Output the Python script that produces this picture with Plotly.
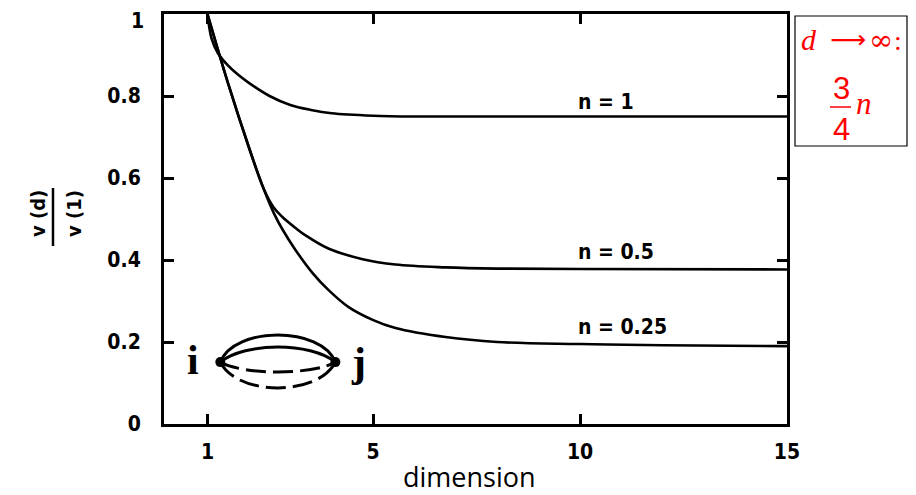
import plotly.graph_objects as go

# ---- data ----
n1_x = [1, 1.1, 1.25, 1.5, 1.75, 2.0, 2.5, 3.0, 3.5, 4.0, 5.0, 6.0, 8, 10, 12, 15]
n1_y = [1.0, 0.94, 0.905, 0.874, 0.851, 0.832, 0.80, 0.778, 0.766, 0.758, 0.752, 0.75, 0.75, 0.75, 0.75, 0.75]

n05_x = [1, 1.5, 2.0, 2.36, 2.6, 2.81, 3.13, 3.37, 3.92, 4.75, 5.54, 6.75, 8, 10, 15]
n05_y = [1.0, 0.83, 0.675, 0.573, 0.528, 0.505, 0.478, 0.46, 0.428, 0.402, 0.389, 0.382, 0.379, 0.378, 0.377]

n025_x = [1, 1.5, 2.0, 2.36, 2.6, 2.81, 3.13, 3.54, 3.92, 4.41, 4.99, 5.54, 6.75, 8, 10, 12, 15]
n025_y = [1.0, 0.83, 0.675, 0.573, 0.515, 0.475, 0.424, 0.368, 0.327, 0.285, 0.254, 0.234, 0.212, 0.2, 0.195, 0.192, 0.19]

curve_labels = ["n = 1", "n = 0.5", "n = 0.25"]
label_x = [9.9, 9.9, 9.9]
label_y = [0.785, 0.42, 0.237]

x_ticks = [1, 5, 10, 15]
y_ticks = [0, 0.2, 0.4, 0.6, 0.8]
y_ticktext = ["0", "0.2", "0.4", "0.6", "0.8"]
y_top_label = "1"

# ---- figure geometry (page places the figure 8px from the window corner) ----
OFF = 8
W, H = 916 - OFF, 495 - OFF
ML, MR, MT, MB = 164 - OFF, 129, 14 - OFF, 71
PW, PH = W - ML - MR, H - MT - MB


def px(xs):
    """screen x pixel -> paper x"""
    return (xs - OFF - ML) / PW


def py(ys):
    """screen y pixel -> paper y"""
    return (H - MB - (ys - OFF)) / PH


CONDENSED = "DejaVu Sans Condensed"
TICKFONT = dict(family=CONDENSED, size=21, color="black", weight="bold")

fig = go.Figure()
for xs, ys in [(n1_x, n1_y), (n05_x, n05_y), (n025_x, n025_y)]:
    fig.add_trace(go.Scatter(x=xs, y=ys, mode="lines",
                             line=dict(color="black", width=2.6, shape="spline", smoothing=1.0),
                             showlegend=False, hoverinfo="skip"))

# inset diagram nodes
node_x = [1.31, 4.09]
node_y = [0.151, 0.151]
fig.add_trace(go.Scatter(x=node_x, y=node_y, mode="markers",
                         marker=dict(color="black", size=10), showlegend=False, hoverinfo="skip"))

shapes = []
x0, x1, y0 = node_x[0], node_x[1], node_y[0]
dx = x1 - x0
for h, c, dash in [(0.239, 0.12, "solid"), (0.200, 0.22, "solid"),
                   (0.119, 0.2, "20px,7px"), (0.067, 0.15, "20px,7px")]:
    path = f"M {x0},{y0} C {x0 + c*dx},{h} {x1 - c*dx},{h} {x1},{y0}"
    shapes.append(dict(type="path", path=path, xref="x", yref="y",
                       line=dict(color="black", width=3, dash=dash)))

# y title fraction bar
shapes.append(dict(type="line", xref="paper", yref="paper",
                   x0=px(53), x1=px(53), y0=py(188), y1=py(246),
                   line=dict(color="black", width=2.5)))
# info box
shapes.append(dict(type="rect", xref="paper", yref="paper",
                   x0=px(795), x1=px(907), y0=py(146), y1=py(16),
                   line=dict(color="black", width=1.2), fillcolor="white"))
# fraction bar in box
shapes.append(dict(type="line", xref="paper", yref="paper",
                   x0=px(830), x1=px(851), y0=py(107), y1=py(107),
                   line=dict(color="red", width=1.5)))
# blue bar at right edge
shapes.append(dict(type="rect", xref="paper", yref="paper",
                   x0=px(910), x1=px(917), y0=py(496), y1=py(7),
                   line=dict(width=0), fillcolor="#3c3ccc"))

annotations = []
for t, lx, ly in zip(curve_labels, label_x, label_y):
    annotations.append(dict(x=lx, y=ly, xref="x", yref="y", text=t, showarrow=False,
                            xanchor="left", yanchor="middle",
                            font=dict(family=CONDENSED, size=21, color="black", weight="bold")))

serif = "Liberation Serif"


def pa(x, y, text, font, **kw):
    d = dict(x=px(x), y=py(y), xref="paper", yref="paper", text=text, showarrow=False,
             xanchor="center", yanchor="middle", font=font)
    d.update(kw)
    return d


annotations += [
    # top y tick label (sits just below the frame corner)
    dict(x=px(146), y=py(21), xref="paper", yref="paper", text=y_top_label, showarrow=False,
         xanchor="right", yanchor="middle", font=TICKFONT),
    pa(193, 360, "<b>i</b>", dict(family=serif, size=42, color="black")),
    pa(358, 362, "<b>j</b>", dict(family=serif, size=42, color="black")),
    # y axis title as fraction
    pa(38, 214, "v (d)", dict(family=CONDENSED, size=20, color="black", weight="bold"), textangle=-90),
    pa(74, 214, "v (1)", dict(family=CONDENSED, size=20, color="black", weight="bold"), textangle=-90),
    # x axis title
    pa(469, 476, "dimension", dict(family="Open Sans", size=27, color="black"), borderpad=0),
    # box text
    pa(809, 40, "<i>d</i>", dict(family=serif, size=30, color="red")),
    pa(848, 40, "⟶", dict(family="DejaVu Sans", size=25, color="red")),
    pa(881, 40, "∞", dict(family="DejaVu Serif", size=29, color="red")),
    pa(898, 41, ":", dict(family=serif, size=28, color="red")),
    pa(841, 88, "3", dict(family="Liberation Sans", size=31, color="red")),
    pa(841, 129, "4", dict(family="Liberation Sans", size=31, color="red")),
    pa(864, 104, "<i>n</i>", dict(family=serif, size=31, color="red")),
]

fig.update_layout(
    width=W, height=H,
    margin=dict(l=ML, r=MR, t=MT, b=MB, pad=0, autoexpand=False),
    paper_bgcolor="white", plot_bgcolor="white",
    shapes=shapes, annotations=annotations,
    showlegend=False,
)
fig.update_xaxes(range=[-0.05, 15], tickvals=x_ticks, ticks="inside", ticklen=10, tickwidth=2.5,
                 tickcolor="black", showline=True, linewidth=3, linecolor="black", mirror="ticks",
                 showgrid=False, zeroline=False, tickfont=TICKFONT, ticklabelstandoff=7,
                 automargin=False)
fig.update_yaxes(range=[0, 1], tickvals=y_ticks, ticktext=y_ticktext, ticks="inside", ticklen=10,
                 tickwidth=2.5, tickcolor="black", showline=True, linewidth=3, linecolor="black",
                 mirror="ticks", showgrid=False, zeroline=False, tickfont=TICKFONT,
                 ticklabelstandoff=16, automargin=False)

fig.write_html("out.html")
